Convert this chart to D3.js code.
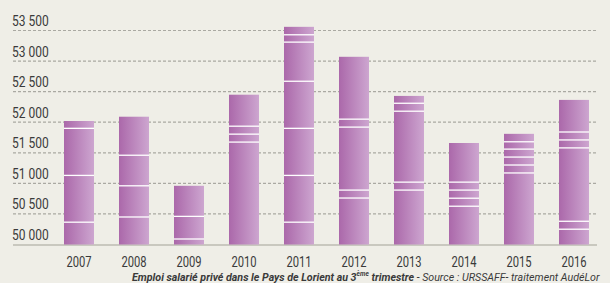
<!DOCTYPE html>
<html>
<head>
<meta charset="utf-8">
<script src="https://cdn.jsdelivr.net/npm/d3@7"></script>
<style>
  body { margin: 0; background: #efeee7; }
  svg { display: block; font-family: Roboto, "Liberation Sans", sans-serif; }
</style>
</head>
<body>
<div id="chart"></div>
<script>
// Donnees

var years = ["2007", "2008", "2009", "2010", "2011", "2012", "2013", "2014", "2015", "2016"];
var jobs = [52020, 52090, 50960, 52450, 53560, 53070, 52430, 51660, 51810, 52365];
// lignes blanches a l'interieur des barres
var dividers = [
    [51900, 51130, 50365],
    [51460, 50960, 50450],
    [50460, 50090],
    [51935, 51805, 51675],
    [53430, 53310, 52670, 51900, 51130, 50365],
    [52050, 51920, 50890, 50760],
    [52310, 52180, 51020, 50890],
    [51020, 50890, 50757, 50626],
    [51680, 51560, 51430, 51300, 51170],
    [51840, 51710, 51580, 50380, 50250]
];
var yTicks = [50000, 50500, 51000, 51500, 52000, 52500, 53000, 53500];

// Zone

var width = 610;
var height = 283;
var margin = {top: 30.5, right: 13, bottom: 38.5, left: 13};
var narrow = 0.8; // police condensee simulee

var svg = d3.select("#chart").append("svg")
    .attr("width", width)
    .attr("height", height);

var x = d3.scaleBand()
    .domain(years)
    .range([51.5, 601.5])
    .paddingInner(25 / 55)
    .paddingOuter(25 / 110);

var y = d3.scaleLinear()
    .domain([50000, 53500])
    .range([height - margin.bottom, margin.top]);

var fmt = function(d) { return d3.format(",")(d).replace(",", " "); };

var grad = svg.append("defs").append("linearGradient")
    .attr("id", "barGrad")
    .attr("x1", "0").attr("x2", "1")
    .attr("y1", "0").attr("y2", "0");
    grad.append("stop").attr("offset", "0").attr("stop-color", "#ab68aa");
    grad.append("stop").attr("offset", "1").attr("stop-color", "#cda6d0");

// Grille + libelles Y

var grid = svg.append("g").attr("id", "grid");

    grid.selectAll("line")
        .data(yTicks.filter(function(d) { return d > 50000; }))
        .enter().append("line")
        .attr("x1", margin.left)
        .attr("x2", width - margin.right)
        .attr("y1", function(d) { return y(d); })
        .attr("y2", function(d) { return y(d); })
        .attr("stroke", "#aaa9a2")
        .attr("stroke-width", 1.2)
        .attr("stroke-dasharray", "3,2");

    grid.selectAll("text")
        .data(yTicks)
        .enter().append("text")
        .attr("transform", function(d) { return "translate(12," + (y(d) - 4.5) + ") scale(" + narrow + ",1)"; })
        .attr("fill", "#3a3a3a")
        .style("font-size", "15px")
        .text(fmt);

// Ligne de base

svg.append("line")
    .attr("x1", margin.left)
    .attr("x2", width - margin.right)
    .attr("y1", y(50000) + 0.5)
    .attr("y2", y(50000) + 0.5)
    .attr("stroke", "#c9c8bf")
    .attr("stroke-width", 2);

// Barres

var bars = svg.append("g").attr("id", "bars");

    bars.selectAll("rect")
        .data(years)
        .enter().append("rect")
        .attr("x", function(d) { return x(d); })
        .attr("width", x.bandwidth())
        .attr("y", function(d, i) { return y(jobs[i]); })
        .attr("height", function(d, i) { return y(50000) - y(jobs[i]); })
        .attr("fill", "url(#barGrad)");

    years.forEach(function(yr, i) {
        bars.selectAll(null)
            .data(dividers[i])
            .enter().append("line")
            .attr("x1", x(yr))
            .attr("x2", x(yr) + x.bandwidth())
            .attr("y1", function(d) { return y(d); })
            .attr("y2", function(d) { return y(d); })
            .attr("stroke", "#ffffff")
            .attr("stroke-width", 1.3);
    });

// Axe X

var xAxis = svg.append("g")
    .attr("transform", "translate(0," + (y(50000) + 13) + ")")
    .call(d3.axisBottom(x).tickSize(0).tickPadding(0));

    xAxis.select(".domain").remove();
    xAxis.selectAll(".tick text")
        .attr("fill", "#3a3a3a")
        .attr("dy", "0.7em")
        .attr("transform", "scale(" + narrow + ",1)")
        .style("font-family", "Roboto, \"Liberation Sans\", sans-serif")
        .style("font-size", "14px");

// Source

var src = svg.append("text")
    .attr("fill", "#3a3a3a")
    .style("font-size", "11.5px")
    .style("font-style", "italic");

    src.append("tspan").style("font-weight", "bold").text("Emploi salarié privé dans le Pays de Lorient au 3");
    src.append("tspan").style("font-weight", "bold").style("font-size", "7px").attr("dy", -5).text("ème");
    src.append("tspan").style("font-weight", "bold").attr("dy", 5).text(" trimestre");
    src.append("tspan").text(" - Source : URSSAFF- traitement AudéLor");

var srcW = src.node().getComputedTextLength();
    src.attr("transform", "translate(132,280.5) scale(" + (468 / srcW) + ",1)");
</script>
</body>
</html>
